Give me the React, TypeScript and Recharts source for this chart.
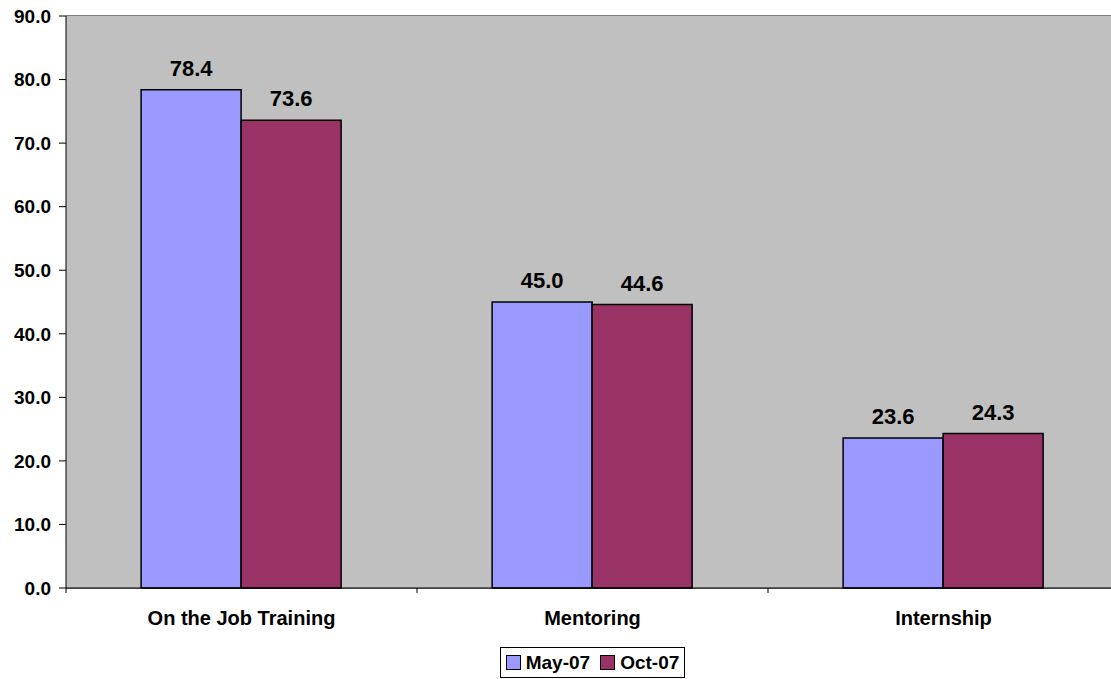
import { BarChart, Bar, XAxis, YAxis, CartesianGrid, Legend, LabelList } from 'recharts'

const categories = ['On the Job Training', 'Mentoring', 'Internship']
const may07 = [78.4, 45.0, 23.6]
const oct07 = [73.6, 44.6, 24.3]
const yTicks = [0, 10, 20, 30, 40, 50, 60, 70, 80, 90]

const seriesInfo = [
  { key: 'may', name: 'May-07', color: '#9999FF' },
  { key: 'oct', name: 'Oct-07', color: '#993366' },
]

const data = categories.map((name, i) => ({ name, may: may07[i], oct: oct07[i] }))

// the plot area runs a little past the right edge of the page, as in the original
const W = 1119
const VIEW_W = 1111
const H = 679
const Y_AXIS_W = 66
const FONT = '"Liberation Sans", Arial, Helvetica, sans-serif'
const band = (W - Y_AXIS_W) / categories.length

function CategoryTick(props: any) {
  const { x, y, payload, index } = props
  const left = x - band / 2
  return (
    <g>
      <line x1={left} y1={y} x2={left} y2={y + 5} stroke="#000" />
      {index === categories.length - 1 && (
        <line x1={left + band} y1={y} x2={left + band} y2={y + 5} stroke="#000" />
      )}
      <text
        x={x}
        y={y + 30}
        textAnchor="middle"
        dominantBaseline="central"
        fontFamily={FONT}
        fontWeight="bold"
        fontSize={20}
        fill="#000"
      >
        {payload.value}
      </text>
    </g>
  )
}

function LegendBox() {
  return (
    <div style={{ display: 'flex', justifyContent: 'center', paddingLeft: Y_AXIS_W }}>
      <div
        style={{
          boxSizing: 'border-box',
          height: 31,
          border: '1px solid #000',
          display: 'flex',
          alignItems: 'center',
          padding: '0 5px',
          fontFamily: FONT,
          fontWeight: 'bold',
          fontSize: 19,
          color: '#000',
          background: '#fff',
        }}
      >
        {seriesInfo.map((s, i) => (
          <div key={s.key} style={{ display: 'flex', alignItems: 'center', marginLeft: i ? 10 : 0 }}>
            <span
              style={{
                display: 'inline-block',
                boxSizing: 'border-box',
                width: 15,
                height: 15,
                background: s.color,
                border: '1px solid #000',
                marginRight: 5,
              }}
            />
            <span>{s.name}</span>
          </div>
        ))}
      </div>
    </div>
  )
}

export default function App() {
  return (
    <div
      style={{
        position: 'absolute',
        left: 0,
        top: 0,
        width: VIEW_W,
        height: H,
        overflow: 'hidden',
        background: '#fff',
      }}
    >
      <BarChart
        width={W}
        height={H}
        data={data}
        margin={{ top: 16, right: 0, left: 0, bottom: 0 }}
        barCategoryGap="21.4%"
        barGap={0}
      >
        <rect x={Y_AXIS_W} y={16} width={W - Y_AXIS_W} height={572} fill="#C0C0C0" />
        <CartesianGrid vertical={false} stroke="#000" strokeOpacity={1} fill="#C0C0C0" />
        <XAxis
          dataKey="name"
          height={60}
          axisLine={{ stroke: '#000' }}
          tickLine={false}
          tickSize={0}
          tickMargin={0}
          tick={<CategoryTick />}
          interval={0}
        />
        <YAxis
          width={Y_AXIS_W}
          domain={[0, 90]}
          ticks={yTicks}
          interval={0}
          axisLine={{ stroke: '#000' }}
          tickLine={{ stroke: '#000' }}
          tickSize={7}
          tickMargin={8}
          tickFormatter={(v: number) => v.toFixed(1)}
          tick={{ fill: '#000', fontFamily: FONT, fontWeight: 'bold', fontSize: 19 }}
        />
        <Legend verticalAlign="bottom" content={<LegendBox />} wrapperStyle={{ bottom: 1 }} />
        {seriesInfo.map((s) => (
          <Bar
            key={s.key}
            dataKey={s.key}
            name={s.name}
            fill={s.color}
            stroke="#000"
            strokeWidth={1.5}
            isAnimationActive={false}
          >
            <LabelList
              dataKey={s.key}
              position="top"
              offset={14}
              formatter={(v: any) => Number(v).toFixed(1)}
              style={{ fill: '#000', fontFamily: FONT, fontWeight: 'bold', fontSize: 22 }}
            />
          </Bar>
        ))}
      </BarChart>
    </div>
  )
}
